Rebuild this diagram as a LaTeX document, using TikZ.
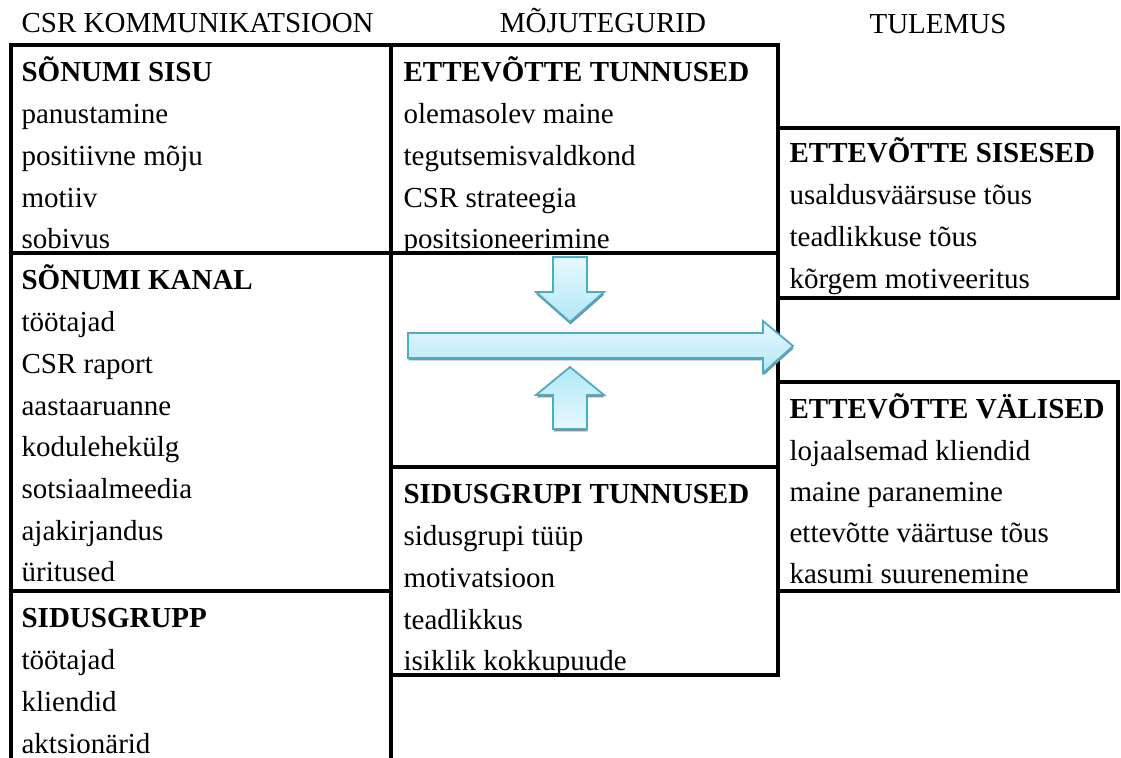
\documentclass[tikz,border=0pt]{standalone}
\usepackage{fontspec}
\setmainfont{LiberationSerif}[Extension=.ttf, UprightFont=*-Regular, BoldFont=*-Bold]
\usepackage{xcolor}
\usepackage{tikz}

\definecolor{arrowline}{HTML}{4BACC6}
\definecolor{arrowtop}{HTML}{E6F8FE}
\definecolor{arrowbottom}{HTML}{B3E7F8}

\begin{document}
\begin{tikzpicture}[x=0.5pt, y=-0.5pt, line width=1.6pt,
    every node/.style={inner sep=0pt, font=\fontsize{14.5}{17}\selectfont},
    cell/.style={anchor=base west},
    head/.style={anchor=base west, font=\fontsize{14.5}{17}\selectfont\bfseries},
    title/.style={anchor=base},
    flowarrow/.style={draw=arrowline, line width=0.9pt, line join=miter},
    arrowshadow/.style={fill=black!45, draw=none, shift={(0.5,2.5)}}]
        \useasboundingbox (0,0) rectangle (1121,758);

        % headings
        \node[cell] (hkomm) at (20, 33) {CSR KOMMUNIKATSIOON};
        \node[title] (hmoju) at (603, 33) {MÕJUTEGURID};
        \node[title] (htulem) at (938, 34) {TULEMUS};

        % left and middle table
        \draw (11, 758) -- (11, 45) -- (778, 45) -- (778, 675) -- (391, 675);
        \draw (391, 45) -- (391, 758);
        \draw (11, 253) -- (778, 253);
        \draw (11, 591) -- (391, 591);
        \draw (391, 467) -- (778, 467);

        % right boxes
        \draw (778, 128) rectangle (1118, 298);
        \draw (778, 382) rectangle (1118, 591);

        % CSR kommunikatsioon
        \node[head] (sisu) at (20, 82) {SÕNUMI SISU};
        \foreach \txt [count=\i] in {panustamine, positiivne mõju, motiiv, sobivus}
          \node[cell] (sisu\i) at (20, {82 + 41.7*\i}) {\txt};

        \node[head] (kanal) at (20, 290) {SÕNUMI KANAL};
        \foreach \txt [count=\i] in {töötajad, CSR raport, aastaaruanne, kodulehekülg, sotsiaalmeedia, ajakirjandus, üritused}
          \node[cell] (kanal\i) at (20, {290 + 41.7*\i}) {\txt};

        \node[head] (grupp) at (20, 628) {SIDUSGRUPP};
        \foreach \txt [count=\i] in {töötajad, kliendid, aktsionärid}
          \node[cell] (grupp\i) at (20, {628 + 41.7*\i}) {\txt};

        % mõjutegurid
        \node[head] (ettetunnus) at (402, 82) {ETTEVÕTTE TUNNUSED};
        \foreach \txt [count=\i] in {olemasolev maine, tegutsemisvaldkond, CSR strateegia, positsioneerimine}
          \node[cell] (ettetunnus\i) at (402, {82 + 41.7*\i}) {\txt};

        \node[head] (grupitunnus) at (402, 504) {SIDUSGRUPI TUNNUSED};
        \foreach \txt [count=\i] in {sidusgrupi tüüp, motivatsioon, teadlikkus, isiklik kokkupuude}
          \node[cell] (grupitunnus\i) at (402, {504 + 41.7*\i}) {\txt};

        % tulemus
        \node[head] (sisesed) at (788, 163) {ETTEVÕTTE SISESED};
        \foreach \txt [count=\i] in {usaldusväärsuse tõus, teadlikkuse tõus, kõrgem motiveeritus}
          \node[cell] (sisesed\i) at (788, {163 + 41.7*\i}) {\txt};

        \node[head] (valised) at (788, 419) {ETTEVÕTTE VÄLISED};
        \foreach \txt [count=\i] in {lojaalsemad kliendid, maine paranemine, ettevõtte väärtuse tõus, kasumi suurenemine}
          \node[cell] (valised\i) at (788, {419 + 41.2*\i}) {\txt};

        % arrows
        \fill[arrowshadow] (553, 257) -- (587, 257) -- (587, 292) -- (604, 292) -- (570, 322) -- (536, 292) -- (553, 292) -- cycle;
        \draw[flowarrow, top color=arrowtop, bottom color=arrowbottom] (553, 257) -- (587, 257) -- (587, 292) -- (604, 292) -- (570, 322) -- (536, 292) -- (553, 292) -- cycle;

        \fill[arrowshadow] (408, 333) -- (763, 333) -- (763, 321) -- (793, 346) -- (763, 373) -- (763, 358) -- (408, 358) -- cycle;
        \draw[flowarrow, top color=arrowtop, bottom color=arrowbottom] (408, 333) -- (763, 333) -- (763, 321) -- (793, 346) -- (763, 373) -- (763, 358) -- (408, 358) -- cycle;

        \fill[arrowshadow] (553, 429) -- (587, 429) -- (587, 395) -- (604, 395) -- (570, 367) -- (536, 395) -- (553, 395) -- cycle;
        \draw[flowarrow, top color=arrowbottom, bottom color=arrowtop] (553, 429) -- (587, 429) -- (587, 395) -- (604, 395) -- (570, 367) -- (536, 395) -- (553, 395) -- cycle;
\end{tikzpicture}
\end{document}
